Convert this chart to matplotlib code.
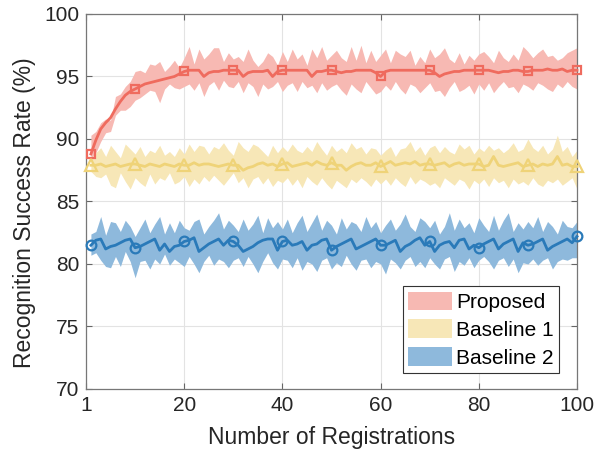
import matplotlib
matplotlib.use("Agg")
import matplotlib.pyplot as plt
from matplotlib.patches import Patch
import numpy as np

plt.rcParams['font.family'] = ['Liberation Sans', 'DejaVu Sans']

x = list(range(1, 101))

prop_mean = [88.8, 89.9, 90.8, 91.3, 91.7, 92.4, 93.0, 93.5, 93.8, 94.0,
             94.2, 94.4, 94.5, 94.6, 94.7, 94.8, 94.9, 95.0, 95.2, 95.4,
             95.5, 95.5, 95.5, 95.0, 95.3, 95.4, 95.4, 95.5, 95.5, 95.5,
             95.5, 95.0, 95.3, 95.4, 95.4, 95.4, 95.5, 95.0, 95.4, 95.5,
             95.5, 95.5, 95.5, 95.5, 95.5, 95.0, 95.4, 95.4, 95.5, 95.5,
             95.4, 95.3, 95.4, 95.4, 95.5, 95.5, 95.5, 95.5, 95.3, 95.0,
             95.4, 95.5, 95.5, 95.5, 95.5, 95.5, 95.5, 95.5, 95.5, 95.5,
             95.3, 95.0, 95.2, 95.3, 95.4, 95.4, 95.5, 95.5, 95.5, 95.5,
             95.5, 95.5, 95.4, 95.3, 95.4, 95.4, 95.5, 95.5, 95.4, 95.4,
             95.5, 95.5, 95.5, 95.6, 95.5, 95.5, 95.6, 95.4, 95.5, 95.5]
prop_upper = [90.3, 90.6, 91.3, 91.6, 91.5, 93.4, 93.6, 94.2, 94.6, 95.4,
              95.5, 95.3, 96.0, 95.9, 96.2, 95.4, 95.8, 96.3, 95.7, 96.5,
              97.4, 96.0, 97.2, 96.4, 96.8, 97.3, 97.3, 96.2, 96.9, 96.4,
              96.6, 96.2, 97.2, 96.3, 95.8, 96.2, 96.9, 96.6, 95.9, 97.0,
              96.2, 97.2, 96.4, 96.8, 95.9, 97.2, 96.5, 97.4, 96.3, 96.7,
              97.1, 96.5, 96.2, 97.4, 96.3, 97.5, 96.1, 97.1, 96.2, 96.7,
              97.2, 96.1, 97.1, 96.8, 96.6, 97.1, 95.9, 96.6, 96.1, 97.2,
              96.5, 96.8, 97.3, 96.4, 96.1, 96.9, 96.0, 96.7, 96.3, 96.8,
              97.0, 96.6, 96.1, 97.1, 96.5, 96.2, 96.8, 96.3, 97.4, 97.0,
              96.5, 96.9, 97.2, 96.6, 96.7, 96.3, 96.5, 96.9, 97.1, 97.3]
prop_lower = [88.2, 88.9, 89.8, 90.5, 90.6, 91.9, 92.3, 92.3, 92.6, 93.1,
              93.3, 93.6, 93.9, 93.8, 92.9, 94.0, 94.4, 94.1, 94.0, 94.2,
              94.4, 93.9, 94.5, 93.4, 94.3, 94.6, 93.9, 94.7, 94.2, 94.1,
              94.6, 93.7, 94.5, 94.2, 93.4, 94.4, 94.0, 94.2, 94.6, 93.8,
              94.3, 94.5, 93.8, 94.6, 94.1, 94.3, 93.7, 94.5, 93.9, 94.2,
              94.4, 93.9, 93.5, 94.4, 94.0, 93.7, 94.6, 94.1, 93.6, 93.8,
              94.3, 93.9, 94.6, 94.0, 93.6, 94.4, 94.2, 93.7, 94.1, 94.5,
              93.8, 93.9, 93.4, 94.1, 94.6, 93.8, 94.0, 94.3, 93.6, 94.4,
              93.9, 94.5, 93.7, 94.2, 94.6, 94.1, 94.2, 93.7, 94.4, 94.2,
              93.9, 94.5, 94.3, 94.0, 93.8, 94.4, 94.1, 94.6, 94.2, 94.0]

b1_mean = [87.9, 87.9, 88.0, 87.8, 87.9, 88.0, 87.8, 87.9, 88.0, 88.0,
           87.9, 87.8, 88.0, 87.9, 87.8, 88.0, 87.9, 87.8, 88.0, 87.9,
           87.9, 88.1, 87.9, 88.0, 88.0, 87.9, 87.8, 87.9, 88.0, 87.9,
           87.9, 87.5, 87.7, 87.8, 88.0, 88.1, 87.9, 88.0, 87.8, 88.0,
           88.1, 87.8, 87.9, 88.0, 88.1, 87.9, 88.2, 88.0, 87.9, 88.1,
           87.9, 87.9, 87.5, 87.8, 88.0, 88.1, 87.9, 87.9, 88.1, 87.8,
           88.0, 88.2, 87.9, 88.0, 88.1, 88.0, 88.2, 87.9, 88.0, 88.0,
           87.9, 88.0, 88.1, 87.8, 88.0, 88.1, 87.9, 88.0, 88.0, 88.0,
           87.8, 87.9, 88.6, 87.9, 87.8, 87.9, 88.0, 88.1, 87.8, 87.9,
           88.0, 87.8, 88.0, 87.9, 88.0, 88.6, 87.9, 88.0, 87.8, 87.8]
b1_upper = [88.5, 88.9, 89.3, 88.6, 89.5, 89.0, 88.5, 89.6, 89.2, 88.8,
            89.4, 88.6, 89.1, 88.9, 89.5, 88.7, 89.0, 88.6, 89.3, 88.8,
            89.6, 89.0, 89.5, 89.4, 88.8, 89.4, 89.2, 89.7, 89.1, 88.7,
            89.8, 89.3, 89.0, 89.6, 89.4, 89.0, 88.6, 89.5, 88.9, 89.4,
            89.0, 89.6, 89.1, 88.9, 89.4, 89.0, 89.8, 89.2, 88.7, 89.5,
            89.0, 89.3, 88.9, 89.7, 89.2, 89.4, 88.8, 89.3, 89.2, 88.7,
            89.1, 89.4, 88.6, 89.2, 89.3, 89.8, 89.0, 89.4, 88.7, 89.3,
            89.5, 88.9, 89.4, 89.0, 88.8, 89.6, 89.2, 89.5, 88.8, 89.3,
            89.0, 89.5, 89.1, 89.3, 88.9, 89.2, 89.7, 89.0, 89.2, 90.0,
            89.3, 89.0, 89.5, 88.8, 89.2, 90.3, 89.0, 89.4, 88.6, 89.1]
b1_lower = [87.4, 87.0, 86.9, 87.2, 86.3, 86.1, 87.3, 86.6, 86.0, 86.9,
            86.5, 86.2, 87.2, 86.4, 86.9, 86.7, 87.3, 86.4, 86.6, 87.0,
            86.2, 86.8, 86.4, 87.0, 86.6, 87.1, 86.7, 86.3, 86.8, 87.3,
            86.5, 86.9, 86.1, 86.8, 87.0, 86.4, 86.9, 86.2, 86.7, 86.5,
            86.9, 86.3, 86.8, 86.1, 87.0, 86.6, 86.3, 86.9, 86.4, 86.0,
            86.7, 86.4, 86.1, 86.8, 86.5, 86.9, 86.6, 86.2, 86.8, 86.4,
            86.8, 86.3, 86.9, 86.5, 86.2, 87.0, 86.4, 86.8, 86.6, 86.3,
            86.5, 86.1, 86.9, 86.6, 86.3, 86.8, 86.6, 86.0, 86.7, 86.4,
            86.8, 86.2, 86.9, 86.5, 86.7, 86.1, 86.8, 86.4, 86.6, 86.3,
            86.9, 86.4, 86.2, 86.7, 86.5, 86.8, 86.3, 86.6, 86.9, 86.0]

b2_mean = [81.5, 81.9, 82.0, 81.2, 81.4, 81.5, 81.7, 81.9, 82.0, 81.3,
           81.4, 81.6, 81.8, 82.0, 81.1, 81.6, 81.0, 81.4, 81.5, 81.8,
           81.9, 82.1, 81.0, 81.3, 81.6, 81.8, 82.0, 81.5, 81.9, 81.8,
           81.5, 81.0, 81.2, 81.4, 81.7, 81.9, 82.0, 82.0, 81.1, 81.8,
           81.9, 81.5, 81.6, 81.8, 81.1, 81.5, 81.6, 81.9, 82.0, 81.1,
           81.4, 81.6, 81.8, 82.0, 81.2, 81.4, 81.6, 81.8, 82.0, 81.5,
           81.5, 81.7, 81.9, 81.0, 81.4, 81.6, 81.9, 82.1, 81.5, 81.8,
           81.0, 81.5, 81.7, 81.8, 81.3, 81.9, 82.0, 81.2, 81.5, 81.3,
           81.6, 81.8, 82.0, 81.2, 81.6, 81.8, 82.0, 81.0, 81.7, 81.5,
           81.6, 81.8, 82.0, 81.1, 81.4, 81.6, 81.8, 82.0, 81.7, 82.2]
b2_upper = [82.4, 82.6, 83.8, 82.3, 83.4, 83.3, 82.6, 83.5, 83.0, 82.2,
            82.9, 83.6, 82.5, 83.2, 83.8, 82.4, 83.3, 82.5, 83.5, 82.9,
            82.7, 83.4, 83.6, 82.4, 83.0, 83.5, 84.1, 82.8, 83.5, 83.1,
            82.6, 83.6, 82.7, 83.2, 83.9, 82.5, 83.7, 82.9, 83.4, 82.8,
            83.6, 82.5, 83.3, 83.9, 82.6, 83.3, 84.0, 82.7, 83.5, 83.1,
            82.4, 83.7, 82.8, 83.4, 83.2, 82.6, 83.8, 82.9, 83.4, 82.5,
            83.1, 83.6, 82.7, 83.2, 84.0, 83.0, 82.6, 83.7, 83.4, 82.9,
            83.5, 82.4, 83.0, 84.1, 82.7, 83.6, 82.9, 83.3, 82.5, 83.7,
            83.1, 82.6, 83.9, 82.7, 83.5, 84.1, 82.6, 83.3, 82.8, 83.4,
            82.9, 83.8, 82.6, 83.4, 83.0, 82.4, 83.5, 83.0, 82.9, 83.4]
b2_lower = [80.7, 80.9, 80.3, 79.8, 79.7, 80.6, 79.8, 81.0, 80.2, 78.9,
            80.2, 80.3, 79.6, 80.4, 80.0, 80.8, 79.9, 80.4, 80.1, 79.8,
            80.6, 80.0, 79.3, 80.2, 80.7, 79.9, 80.4, 80.2, 79.7, 80.3,
            80.5, 79.8, 80.6, 80.0, 79.3, 80.2, 80.9, 80.1, 79.6, 80.4,
            80.3, 79.7, 80.5, 79.5, 80.2, 80.0, 79.4, 80.3, 80.5, 79.6,
            80.1, 79.8, 80.7, 80.0, 79.5, 80.3, 80.4, 79.7, 80.2, 80.0,
            79.2, 80.4, 80.1, 79.6, 80.3, 80.6, 79.8, 80.2, 79.7, 80.5,
            80.0, 79.6, 80.4, 80.6, 79.4, 80.2, 79.9, 80.5, 79.7, 80.3,
            80.6, 80.2, 79.6, 80.3, 80.5, 79.8, 80.4, 79.3, 80.1, 80.0,
            80.4, 79.9, 80.3, 80.5, 79.6, 80.2, 80.4, 80.3, 80.5, 80.5]

labels = ['Proposed', 'Baseline 1', 'Baseline 2']
xtick_pos = [0, 20, 40, 60, 80, 100]
xtick_labels = ['1', '20', '40', '60', '80', '100']
yticks = [70, 75, 80, 85, 90, 95, 100]

line_colors = ['#EF6B5E', '#EFD378', '#2A7AB9']
band_colors = ['#F7B9B3', '#F7E7B7', '#8EB9DC']
markers = ['s', '^', 'o']
msizes = [6, 8, 7]

series = [(prop_mean, prop_upper, prop_lower),
          (b1_mean, b1_upper, b1_lower),
          (b2_mean, b2_upper, b2_lower)]

fig = plt.figure(figsize=(6.13, 4.57), dpi=100)
ax = fig.add_axes([0.1403, 0.1488, 0.801, 0.8206])

mark_idx = [0] + list(range(9, 100, 10))
for (m, u, l), bc in zip(series, band_colors):
    ax.fill_between(x, l, u, color=bc, linewidth=0, zorder=2)
for (m, u, l), lc, mk, ms in zip(series, line_colors, markers, msizes):
    ax.plot(x, m, color=lc, linewidth=2.0, marker=mk, markevery=mark_idx,
            markersize=ms, markerfacecolor='none', markeredgecolor=lc,
            markeredgewidth=1.6, zorder=3, clip_on=False)

ax.set_xlim(0, 100)
ax.set_ylim(70, 100)
ax.set_xticks(xtick_pos)
ax.set_xticklabels(xtick_labels)
ax.set_yticks(yticks)
ax.grid(True, color='#E3E3E3', linewidth=0.8, zorder=0)
ax.set_axisbelow(True)
ax.tick_params(direction='in', length=4, width=0.8, top=True, right=True,
               labelsize=15, colors='#666666', labelcolor='#262626', pad=5)
for s in ax.spines.values():
    s.set_color('#777777')
    s.set_linewidth(0.9)

ax.set_xlabel('Number of Registrations', fontsize=16.5, color='#262626', labelpad=8)
ax.set_ylabel('Recognition Success Rate (%)', fontsize=16.5, color='#262626')
ax.yaxis.set_label_coords(-0.102, 0.47)

handles = [Patch(facecolor=c, edgecolor='none') for c in band_colors]
leg = ax.legend(handles, labels, loc='lower right', bbox_to_anchor=(0.963, 0.043),
                borderaxespad=0, fontsize=15, handlelength=2.1, handleheight=1.0,
                handletextpad=0.2, labelspacing=0.35, borderpad=0.25,
                fancybox=False, framealpha=1, edgecolor='#333333')
leg.get_frame().set_linewidth(0.8)
leg.set_zorder(5)

fig.savefig('out.png', dpi=100)
